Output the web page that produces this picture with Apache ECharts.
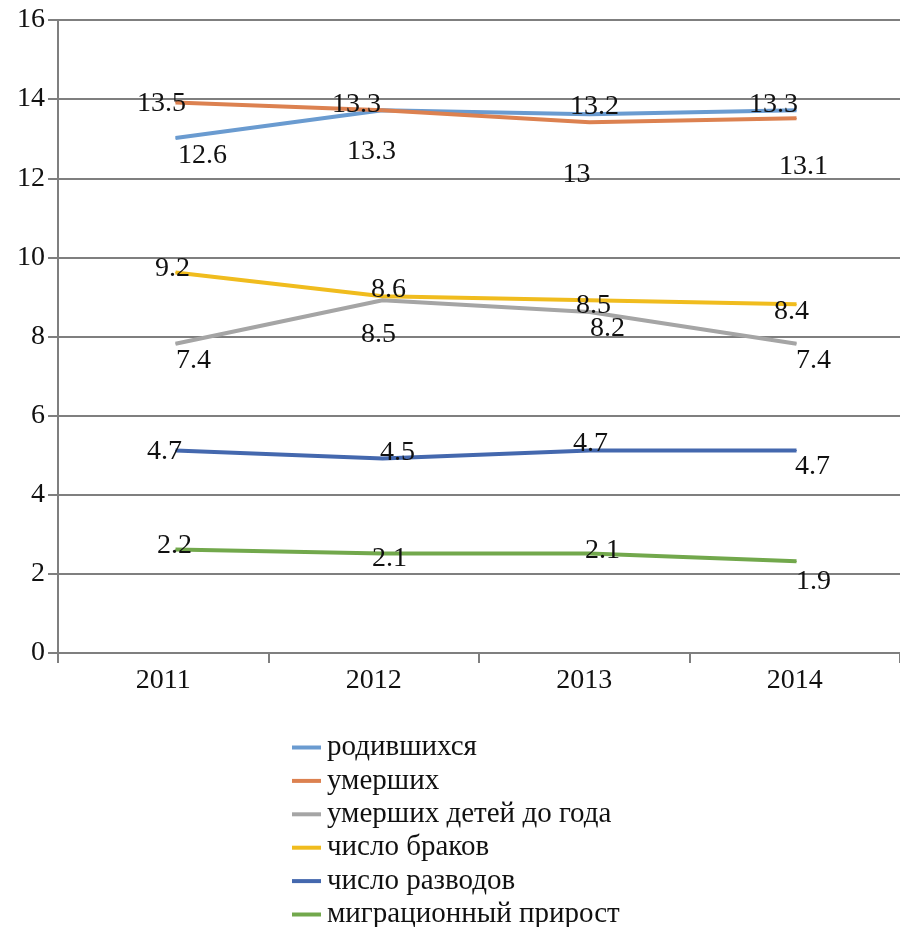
<!DOCTYPE html>
<html>
<head>
	<meta charset="utf-8">
	<script src="https://cdn.jsdelivr.net/npm/echarts@6/dist/echarts.min.js"></script>
	<title>Демография</title>
</head>
<body style="margin:0">
	<div id="main" style="width: 900px;height:927px;"></div>

	<script type="text/javascript">
	    // данные
	    var years = ['2011', '2012', '2013', '2014'];
	    var names = ['родившихся', 'умерших', 'умерших детей до года', 'число браков', 'число разводов', 'миграционный прирост'];
	    var born = [12.6, 13.3, 13.2, 13.3];
	    var died = [13.5, 13.3, 13, 13.1];
	    var infant = [7.4, 8.5, 8.2, 7.4];
	    var marriages = [9.2, 8.6, 8.5, 8.4];
	    var divorces = [4.7, 4.5, 4.7, 4.7];
	    var migration = [2.2, 2.1, 2.1, 1.9];

	    var colors = ['#6a9bd0', '#dc8150', '#a5a5a5', '#f0bc1e', '#4468ae', '#72a84c'];
	    // смещения подписей относительно точек
	    var labelShift = [
	        [[27, 18], [-11, 41], [5, -8], [-23, -6]],
	        [[-14, 1], [-26, -6], [-13, 52], [7, 48]],
	        [[18, 17], [-4, 34], [18, 17], [17, 17]],
	        [[-3, -4], [6, -7], [4, 5], [-5, 7]],
	        [[-11, 1], [15, -6], [1, -7], [16, 16]],
	        [[-1, -4], [7, 5], [13, -3], [17, 20]]
	    ];
	    var all = [born, died, infant, marriages, divorces, migration];

	    var font = 'Liberation Serif';
	    var myChart = echarts.init(document.getElementById('main'));

	    var series = all.map(function (vals, i) {
	        return {
	            name: names[i],
	            type: 'line',
	            xAxisIndex: 1,
	            yAxisIndex: 1,
	            symbol: 'circle',
	            symbolSize: 1,
	            color: colors[i],
	            lineStyle: { width: 4, color: colors[i] },
	            label: {
	                show: true,
	                position: 'inside',
	                align: 'center',
	                verticalAlign: 'middle',
	                color: '#111',
	                fontFamily: font,
	                fontSize: 28
	            },
	            data: vals.map(function (v, j) {
	                return { value: v, label: { offset: labelShift[i][j] } };
	            })
	        };
	    });

	    var option = {
	        animation: false,
	        backgroundColor: '#fff',
	        grid: [
	            { left: 58, right: -8, top: 20, bottom: 274 },
	            { left: 72, right: -22, top: 3.5, bottom: 290.5 }
	        ],
	        legend: {
	            orient: 'vertical',
	            left: 292,
	            top: 733,
	            height: 240,
	            padding: 0,
	            icon: 'rect',
	            itemWidth: 29,
	            itemHeight: 4,
	            itemGap: 4.4,
	            textStyle: { fontFamily: font, fontSize: 29, lineHeight: 26, color: '#111', padding: [0, 0, 0, 1] },
	            data: names
	        },
	        xAxis: [{
	            type: 'category',
	            gridIndex: 0,
	            data: years,
	            axisLine: { lineStyle: { color: '#7f7f7f', width: 2 } },
	            axisTick: { show: true, length: 10, lineStyle: { color: '#7f7f7f', width: 2 } },
	            axisLabel: { fontFamily: font, fontSize: 28, color: '#111', margin: 14 }
	        }, {
	            type: 'category',
	            gridIndex: 1,
	            data: years,
	            show: false
	        }],
	        yAxis: [{
	            type: 'value',
	            gridIndex: 0,
	            min: 0,
	            max: 16,
	            interval: 2,
	            axisLine: { show: true, lineStyle: { color: '#7f7f7f', width: 2 } },
	            axisTick: { show: true, length: 10, lineStyle: { color: '#7f7f7f', width: 2 } },
	            splitLine: { lineStyle: { color: '#7f7f7f', width: 2 } },
	            axisLabel: { fontFamily: font, fontSize: 28, color: '#111', margin: 13 }
	        }, {
	            type: 'value',
	            gridIndex: 1,
	            min: 0,
	            max: 16,
	            interval: 2,
	            show: false
	        }],
	        series: series
	    };

	    myChart.setOption(option);
    </script>
</body>
</html>
